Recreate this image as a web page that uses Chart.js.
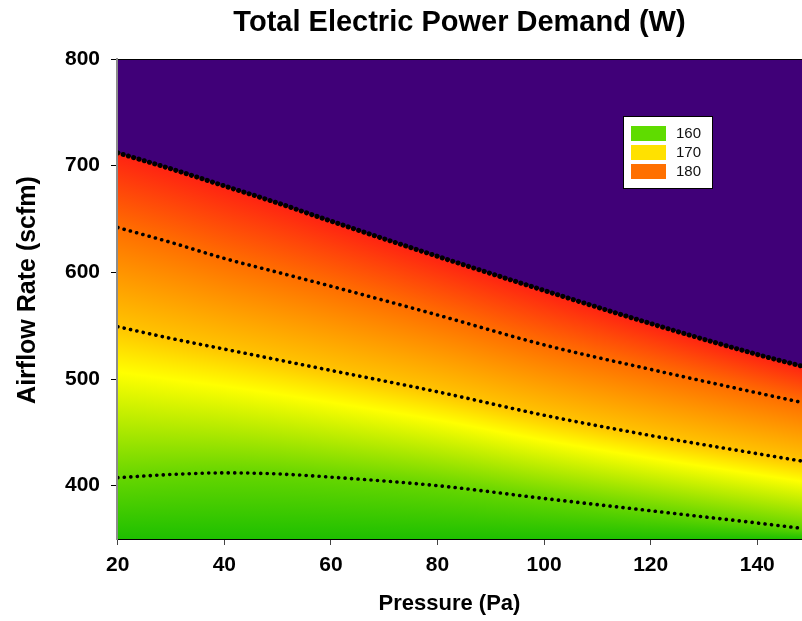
<!DOCTYPE html>
<html>
<head>
<meta charset="utf-8">
<script src="https://cdn.jsdelivr.net/npm/chart.js@4.4.1/dist/chart.umd.min.js"></script>
<style>
  html, body { margin: 0; padding: 0; background: #fff; }
  #wrap { width: 802px; height: 621px; }
</style>
</head>
<body>
<div id="wrap"><canvas id="chart" width="802" height="621"></canvas></div>
<script>
// ===============================
// Data
// ===============================
const pressure = [20, 30, 40, 50, 60, 80, 100, 120, 140, 148.4];
const airflow160 = [407.5, 410.5, 412, 411, 408, 400, 388, 376.5, 365, 360];
const airflow170 = [549, 538, 528, 518, 508, 488, 466, 447, 430, 423];
const airflow180 = [642, 628, 613, 600, 587, 560, 532, 509, 487, 478];
const airflowLimit = [712, 697, 681, 665, 648, 615, 583, 552, 523, 512];

const contourLevels = [160, 170, 180, 190];
const legendLevels = [160, 170, 180];
const xTicks = [20, 40, 60, 80, 100, 120, 140];
const yTicks = [400, 500, 600, 700, 800];

// ===============================
// Styles
// ===============================
const FONT = "'Liberation Sans', Arial, sans-serif";
const PURPLE = "#400078";
const BOTTOM_GREEN = "#1ec000";
// colour ramp of the shaded field, by power level
const rampLevels = [160, 163.5, 167, 170, 180, 190];
const rampColors = ["#66d600", "#b4ea00", "#ffff00", "#ffc400", "#ff6e00", "#ff2212"];
const legendColors = ["#5fdc00", "#ffe100", "#ff7000"];

const toPoints = ys => pressure.map((p, i) => ({ x: p, y: ys[i] }));

const dotted = {
  borderColor: "#000",
  borderWidth: 3.6,
  borderDash: [0.1, 6.4],
  borderCapStyle: "round",
  pointRadius: 0,
  fill: false,
  cubicInterpolationMode: "monotone"
};

// ===============================
// Helpers
// ===============================
const yOnLine = (meta, px) => {
  const pts = meta.data;
  if (px <= pts[0].x) return pts[0].y;
  if (px >= pts[pts.length - 1].x) return pts[pts.length - 1].y;
  try {
    const p = meta.dataset.interpolate({ x: px }, "x");
    if (p && !Array.isArray(p) && isFinite(p.y)) return p.y;
  } catch (e) { /* fall back below */ }
  for (let i = 1; i < pts.length; i++) {
    if (px <= pts[i].x) {
      const t = (px - pts[i - 1].x) / (pts[i].x - pts[i - 1].x);
      return pts[i - 1].y + t * (pts[i].y - pts[i - 1].y);
    }
  }
  return pts[pts.length - 1].y;
};

// shaded field painted in thin columns between the contour lines
const fieldPlugin = {
  id: "field",
  beforeDatasetsDraw(chart) {
    const { ctx, chartArea: area } = chart;
    const metas = contourLevels.map((_, i) => chart.getDatasetMeta(i));
    ctx.save();
    ctx.beginPath();
    ctx.rect(area.left, area.top, area.right - area.left, area.bottom - area.top);
    ctx.clip();
    for (let px = Math.floor(area.left); px < area.right; px += 2) {
      const ys = metas.map(m => yOnLine(m, px + 1));
      const top = ys[ys.length - 1] - 2;
      const h = area.bottom - top;
      const grad = ctx.createLinearGradient(0, top, 0, area.bottom);
      const off = y => Math.min(1, Math.max(0, (y - top) / h));
      grad.addColorStop(1, BOTTOM_GREEN);
      grad.addColorStop(0, rampColors[rampColors.length - 1]);
      rampLevels.forEach((lv, k) => {
        let j = 0;
        while (j < contourLevels.length - 2 && lv > contourLevels[j + 1]) j++;
        const f = (lv - contourLevels[j]) / (contourLevels[j + 1] - contourLevels[j]);
        const y = ys[j] + f * (ys[j + 1] - ys[j]);
        grad.addColorStop(off(y), rampColors[k]);
      });
      ctx.fillStyle = grad;
      ctx.fillRect(px, top, 2, h);
    }
    ctx.restore();
  }
};

// frame lines, axis titles and the small legend box
const decorPlugin = {
  id: "decor",
  afterDatasetsDraw(chart) {
    const { ctx, chartArea: area } = chart;
    ctx.save();
    ctx.strokeStyle = "#000";
    ctx.lineWidth = 1;
    ctx.beginPath();
    ctx.moveTo(area.left, area.top + 0.5);
    ctx.lineTo(area.right, area.top + 0.5);
    ctx.stroke();
    ctx.strokeStyle = "#8c8c8c";
    ctx.lineWidth = 2;
    ctx.beginPath();
    ctx.moveTo(area.left, area.top);
    ctx.lineTo(area.left, area.bottom);
    ctx.stroke();

    // legend
    const lx = area.left + 506, ly = area.top + 57;
    ctx.fillStyle = "#fff";
    ctx.fillRect(lx, ly, 89, 72);
    ctx.strokeStyle = "#000";
    ctx.lineWidth = 1;
    ctx.strokeRect(lx + 0.5, ly + 0.5, 89, 72);
    ctx.font = "15px " + FONT;
    ctx.textBaseline = "middle";
    ctx.textAlign = "left";
    legendLevels.forEach((lv, i) => {
      const y = ly + 10 + i * 19;
      ctx.fillStyle = legendColors[i];
      ctx.fillRect(lx + 8, y, 35, 15);
      ctx.fillStyle = "#111";
      ctx.fillText(String(lv), lx + 53, y + 8);
    });
    ctx.restore();
  },
  afterDraw(chart) {
    const { ctx, chartArea: area } = chart;
    ctx.save();
    ctx.fillStyle = "#000";
    ctx.font = "bold 22px " + FONT;
    ctx.textAlign = "center";
    ctx.textBaseline = "middle";
    ctx.fillText("Pressure (Pa)", (area.left + area.right) / 2 - 10, 604);
    ctx.translate(28, (area.top + area.bottom) / 2 - 9);
    ctx.rotate(-Math.PI / 2);
    ctx.font = "bold 25px " + FONT;
    ctx.fillText("Airflow Rate (scfm)", 0, 0);
    ctx.restore();
  }
};

// ===============================
// Chart
// ===============================
Chart.defaults.color = "#000";
Chart.defaults.font.family = FONT;

const datasets = [airflow160, airflow170, airflow180, airflowLimit].map((ys, i) => ({
  label: String(contourLevels[i]),
  data: toPoints(ys),
  ...dotted
}));
// upper limit: heavy black dotted line, unreachable region above in purple
Object.assign(datasets[3], {
  borderWidth: 5,
  borderDash: [0.1, 5.4],
  fill: "end",
  backgroundColor: PURPLE
});

new Chart(document.getElementById("chart"), {
  type: "line",
  data: { datasets },
  plugins: [fieldPlugin, decorPlugin],
  options: {
    responsive: false,
    animation: false,
    layout: { padding: 0 },
    plugins: {
      legend: { display: false },
      tooltip: { enabled: false },
      title: {
        display: true,
        text: "Total Electric Power Demand (W)",
        fullSize: false,
        font: { size: 29, weight: "bold" },
        padding: { top: 6, bottom: 18.2 }
      }
    },
    scales: {
      x: {
        type: "linear",
        min: 19.85,
        max: 148.4,
        afterBuildTicks: s => { s.ticks = xTicks.map(v => ({ value: v })); },
        afterFit: s => { s.height = 82; },
        grid: { drawOnChartArea: false, tickLength: 6, color: "#444" },
        border: { color: "#000", width: 1 },
        ticks: { font: { size: 21, weight: "bold" }, padding: 8, maxRotation: 0 }
      },
      y: {
        type: "linear",
        min: 350,
        max: 800,
        afterBuildTicks: s => { s.ticks = yTicks.map(v => ({ value: v })); },
        afterFit: s => { s.width = 117; },
        grid: { drawOnChartArea: false, tickLength: 6, color: "#000" },
        border: { color: "#8c8c8c", width: 2 },
        ticks: { font: { size: 21, weight: "bold" }, padding: 11 }
      }
    }
  }
});
</script>
</body>
</html>
